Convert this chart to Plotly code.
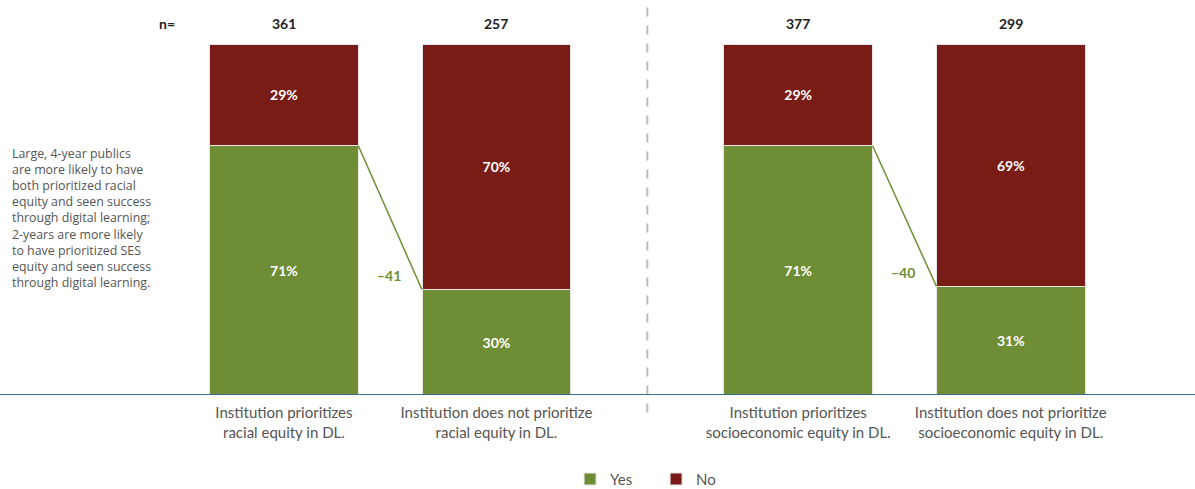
import plotly.graph_objects as go

categories = [
    "Institution prioritizes<br>racial equity in DL.",
    "Institution does not prioritize<br>racial equity in DL.",
    "Institution prioritizes<br>socioeconomic equity in DL.",
    "Institution does not prioritize<br>socioeconomic equity in DL.",
]
yes_pct = [71, 30, 71, 31]
no_pct = [29, 70, 29, 69]
n_values = [361, 257, 377, 299]
note = (
    "Large, 4-year publics<br>are more likely to have<br>both prioritized racial<br>"
    "equity and seen success<br>through digital learning;<br>2-years are more likely<br>"
    "to have prioritized SES<br>equity and seen success<br>through digital learning."
)

GREEN = "#6f8d35"
RED = "#7a1c16"
FONT = "Lato"

# x slots: two pairs with a wider gap between the pairs
x_pos = [0, 1, 2.42, 3.42]
bar_w = 0.70

fig = go.Figure()
for name, vals, color in [("Yes", yes_pct, GREEN), ("No", no_pct, RED)]:
    fig.add_trace(
        go.Bar(
            x=x_pos,
            y=vals,
            name=name,
            width=bar_w,
            marker=dict(color=color, line=dict(color="#e6e6e6", width=1)),
            text=[f"{v}%" for v in vals],
            textposition="inside",
            insidetextanchor="middle",
            textfont=dict(color="white", size=14, family=FONT, weight="bold"),
            hoverinfo="skip",
        )
    )

# connector lines + difference labels for each pair
for a, b in [(0, 1), (2, 3)]:
    x0 = x_pos[a] + bar_w / 2
    x1 = x_pos[b] - bar_w / 2
    fig.add_trace(
        go.Scatter(
            x=[x0, x1],
            y=[yes_pct[a], yes_pct[b]],
            mode="lines",
            line=dict(color=GREEN, width=1.5),
            showlegend=False,
            hoverinfo="skip",
        )
    )
    diff = yes_pct[b] - yes_pct[a]
    fig.add_annotation(
        x=x1 - 0.09,
        y=yes_pct[b] + 4,
        text=f"\u2013{abs(diff)}",
        showarrow=False,
        xanchor="right",
        font=dict(color=GREEN, size=14, family=FONT, weight="bold"),
    )

# n= row
fig.add_annotation(
    x=x_pos[0] - 0.55, y=1.057, yref="paper", yanchor="middle", text="n=",
    showarrow=False, font=dict(color="#222", size=14, family=FONT, weight="bold"),
)
for x, n in zip(x_pos, n_values):
    fig.add_annotation(
        x=x, y=1.057, yref="paper", yanchor="middle", text=str(n), showarrow=False,
        font=dict(color="#222", size=14, family=FONT, weight="bold"),
    )

fig.add_annotation(
    x=0.008, xref="paper", y=0.718, yref="paper", yanchor="top", xanchor="left",
    text=note, showarrow=False, align="left",
    font=dict(color="#555", size=12.4, family="Open Sans"),
)

# divider between the two pairs
mid = (x_pos[1] + x_pos[2]) / 2
fig.add_shape(
    type="line", x0=mid, x1=mid, y0=-0.05, y1=1.11, yref="paper",
    line=dict(color="#bdbdbd", width=2, dash="dash"),
)
# baseline
fig.add_shape(
    type="line", x0=0, x1=1, xref="paper", y0=0, y1=0,
    line=dict(color="#3a6d93", width=2),
)

fig.update_layout(
    barmode="stack",
    width=1195,
    height=489,
    plot_bgcolor="white",
    paper_bgcolor="white",
    margin=dict(l=0, r=0, t=44, b=94, autoexpand=False),
    font=dict(family=FONT, color="#555"),
    legend=dict(
        orientation="h",
        x=0.549,
        xanchor="center",
        y=-0.24,
        yanchor="middle",
        font=dict(size=15, color="#555"),
        entrywidth=41,
        traceorder="normal",
    ),
    xaxis=dict(
        range=[-1.336, 4.287],
        tickvals=x_pos,
        ticktext=categories,
        tickfont=dict(size=15, color="#555"),
        ticklabelstandoff=7,
        showgrid=False,
        zeroline=False,
        showline=False,
        ticks="",
    ),
    yaxis=dict(
        range=[0, 100],
        visible=False,
        showgrid=False,
    ),
)

fig.write_html(
    "out.html",
    config={"displayModeBar": False},
    post_script="document.body.style.margin='0';",
)
